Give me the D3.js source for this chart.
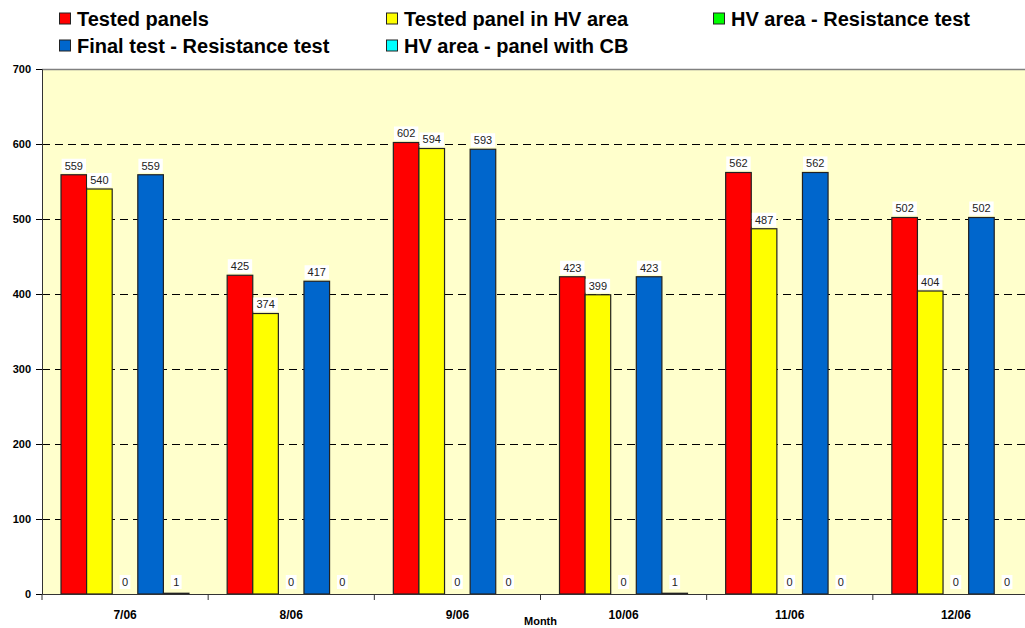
<!DOCTYPE html>
<html>
<head>
<meta charset="utf-8">
<script src="https://cdn.jsdelivr.net/npm/d3@7"></script>
<style>
  body { margin: 0; background: #fff; }
  svg { display: block; font-family: Arial, "Liberation Sans", sans-serif; }
</style>
</head>
<body>
<div id="chart"></div>
<script>
var months = ["7/06", "8/06", "9/06", "10/06", "11/06", "12/06"];
var seriesNames = ["Tested panels", "Tested panel in HV area", "HV area - Resistance test",
                   "Final test - Resistance test", "HV area - panel with CB"];
var seriesColors = ["#ff0000", "#ffff00", "#00ff00", "#0066cc", "#00ffff"];
var testedPanels = [559, 425, 602, 423, 562, 502];
var testedHV = [540, 374, 594, 399, 487, 404];
var hvResistance = [0, 0, 0, 0, 0, 0];
var finalResistance = [559, 417, 593, 423, 562, 502];
var hvWithCB = [1, 0, 0, 1, 0, 0];
var yTicks = [0, 100, 200, 300, 400, 500, 600, 700];

var series = [testedPanels, testedHV, hvResistance, finalResistance, hvWithCB];

var W = 1025, H = 628,
    m = {top: 69, right: -14, bottom: 34, left: 42};

var svg = d3.select("#chart").append("svg")
    .attr("width", W)
    .attr("height", H);

var x0 = d3.scaleBand()
    .domain(months)
    .range([m.left, W - m.right]);

var x1 = d3.scaleBand()
    .domain(d3.range(series.length))
    .range([19, 19 + 128]);

var y = d3.scaleLinear()
    .domain([0, 700])
    .range([H - m.bottom, m.top]);

// plot background
svg.append("rect")
    .attr("x", m.left).attr("y", m.top)
    .attr("width", x0.range()[1] - m.left)
    .attr("height", y(0) - m.top)
    .attr("fill", "#ffffcc");

// grid
svg.append("g").selectAll("line")
    .data(yTicks.filter(function(d) { return d > 0 && d < 700; }))
  .enter().append("line")
    .attr("x1", m.left).attr("x2", W)
    .attr("y1", function(d) { return Math.round(y(d)) + 0.5; })
    .attr("y2", function(d) { return Math.round(y(d)) + 0.5; })
    .attr("stroke", "#000")
    .attr("stroke-dasharray", "8,5");

svg.append("line")
    .attr("x1", m.left).attr("x2", W)
    .attr("y1", y(700) + 0.5).attr("y2", y(700) + 0.5)
    .attr("stroke", "#808080").attr("stroke-width", 1.5);

// bars
var groups = svg.append("g").selectAll("g")
    .data(months)
  .enter().append("g")
    .attr("transform", function(d) { return "translate(" + x0(d) + ",0)"; });

groups.selectAll("rect")
    .data(function(d, i) { return series.map(function(s, k) { return {k: k, v: s[i]}; }); })
  .enter().append("rect")
    .filter(function(d) { return d.v > 0; })
    .attr("x", function(d) { return x1(d.k); })
    .attr("y", function(d) { return y(d.v); })
    .attr("width", x1.bandwidth())
    .attr("height", function(d) { return y(0) - y(d.v); })
    .attr("fill", function(d) { return seriesColors[d.k]; })
    .attr("stroke", "#222")
    .attr("stroke-width", 1.2);

// value labels
var labels = groups.selectAll("g.lbl")
    .data(function(d, i) { return series.map(function(s, k) { return {k: k, v: s[i]}; }); })
  .enter().append("g")
    .attr("class", "lbl")
    .attr("transform", function(d) {
      var yy = d.v < 5 ? y(0) - 12 : y(d.v) - 9;
      return "translate(" + (x1(d.k) + x1.bandwidth() / 2) + "," + yy + ")";
    });

labels.append("rect")
    .attr("x", function(d) { return -String(d.v).length * 3.4 - 2; })
    .attr("y", -7)
    .attr("width", function(d) { return String(d.v).length * 6.8 + 4; })
    .attr("height", 14)
    .attr("fill", "#fff");

labels.append("text")
    .attr("text-anchor", "middle")
    .attr("dy", "0.35em")
    .attr("font-size", "11px")
    .attr("fill", "#222")
    .text(function(d) { return d.v; });

// axes
var yAxis = svg.append("g")
    .attr("transform", "translate(" + m.left + ",0)")
    .call(d3.axisLeft(y).tickValues(yTicks).tickSize(6).tickPadding(5));
yAxis.select(".domain").attr("stroke", "#333");
yAxis.selectAll("text").attr("font-size", "11px").attr("font-weight", "bold").attr("fill", "#000");

var xAxis = svg.append("g")
    .attr("transform", "translate(0," + y(0) + ")")
    .call(d3.axisBottom(x0).tickSize(0).tickPadding(16));
xAxis.select(".domain").attr("stroke", "#333");
xAxis.selectAll("text").attr("font-size", "12px").attr("font-weight", "bold").attr("fill", "#000");
xAxis.selectAll(".edge")
    .data(months.concat([null]))
  .enter().append("line")
    .attr("x1", function(d, i) { return m.left + i * x0.step(); })
    .attr("x2", function(d, i) { return m.left + i * x0.step(); })
    .attr("y1", 0).attr("y2", 6)
    .attr("stroke", "#333");

svg.append("text")
    .attr("x", (m.left + x0.range()[1]) / 2)
    .attr("y", 625)
    .attr("text-anchor", "middle")
    .attr("font-size", "11px")
    .attr("font-weight", "bold")
    .text("Month");

// legend
var legendPos = [[59, 19], [386, 19], [713, 19], [59, 46], [386, 46]];
var legend = svg.append("g").selectAll("g")
    .data(seriesNames)
  .enter().append("g")
    .attr("transform", function(d, i) { return "translate(" + legendPos[i][0] + "," + legendPos[i][1] + ")"; });

legend.append("rect")
    .attr("x", 0.5).attr("y", -6)
    .attr("width", 11).attr("height", 11)
    .attr("fill", function(d, i) { return seriesColors[i]; })
    .attr("stroke", "#222");

legend.append("text")
    .attr("x", 18)
    .attr("dy", "0.35em")
    .attr("font-size", "20px")
    .attr("font-weight", "bold")
    .text(function(d) { return d; });
</script>
</body>
</html>
